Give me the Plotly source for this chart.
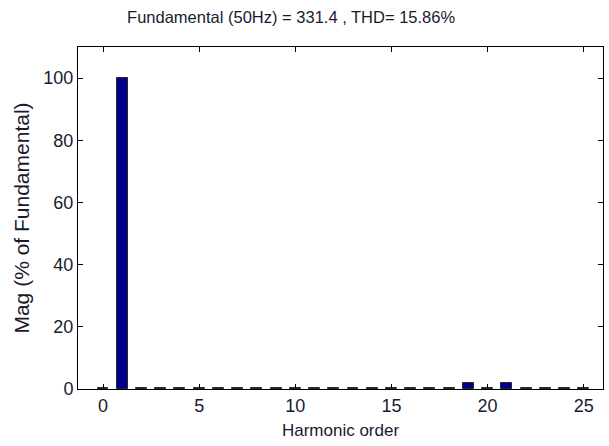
import plotly.graph_objects as go

harmonic_order = list(range(0, 26))
magnitude_pct = [0.3, 100, 0.4, 0.4, 0.4, 0.4, 0.4, 0.4, 0.4, 0.4,
                 0.4, 0.4, 0.4, 0.4, 0.4, 0.4, 0.4, 0.4, 0.4, 2.0,
                 0.4, 2.0, 0.4, 0.4, 0.4, 0.4]
x_ticks = [0, 5, 10, 15, 20, 25]
y_ticks = [0, 20, 40, 60, 80, 100]
title_text = "Fundamental (50Hz) = 331.4 , THD= 15.86%"

FONT = "Liberation Sans, Arial, sans-serif"
TXT = "#1a1a2e"

fig = go.Figure()
fig.add_trace(go.Bar(
    x=harmonic_order, y=magnitude_pct, width=0.57,
    marker=dict(color="rgb(0,0,140)", line=dict(color="rgb(40,40,40)", width=1)),
    showlegend=False,
))

axis_common = dict(
    showline=True, linecolor="black", linewidth=1, mirror="ticks",
    ticks="inside", ticklen=5, tickcolor="black", tickwidth=1,
    showgrid=False, zeroline=False,
    tickfont=dict(family=FONT, size=18, color=TXT),
)

fig.update_layout(
    width=609, height=446,
    margin=dict(l=78, r=6, t=47, b=57),
    paper_bgcolor="white", plot_bgcolor="white",
    bargap=0,
    title=dict(text=title_text, x=0.478, xanchor="center", y=0.975, yanchor="top",
               font=dict(family=FONT, size=16.5, color=TXT)),
    xaxis=dict(range=[-1.3, 26], tickvals=x_ticks,
               title=dict(text="Harmonic order", standoff=9,
                          font=dict(family=FONT, size=17, color=TXT)),
               **axis_common),
    yaxis=dict(range=[0, 110], tickvals=y_ticks,
               title=dict(text="Mag (% of Fundamental)", standoff=8,
                          font=dict(family=FONT, size=21, color=TXT)),
               **axis_common),
)

fig.write_html("out.html")
